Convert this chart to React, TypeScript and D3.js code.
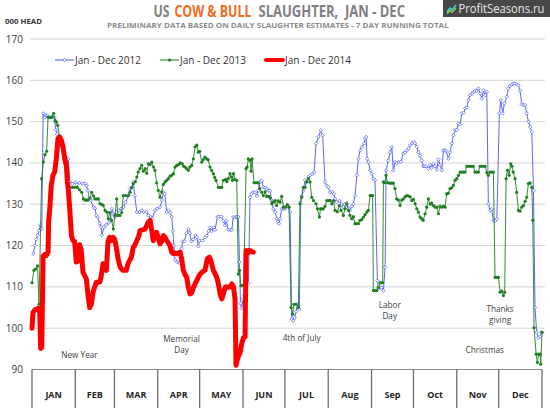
import React, { useLayoutEffect, useRef, useState } from "react";
import * as d3 from "d3";

const W = 550;
const H = 408;

const yTicks = [90, 100, 110, 120, 130, 140, 150, 160, 170];
const monthLabels = ["JAN", "FEB", "MAR", "APR", "MAY", "JUN", "JUL", "Aug", "Sep", "Oct", "Nov", "Dec"];
const monthStarts = [0, 31, 59, 90, 120, 151, 181, 212, 243, 273, 304, 334, 365];

const seriesNames = ["Jan - Dec 2012", "Jan - Dec 2013", "Jan - Dec 2014"];

// [day of year, thousand head]
const data2012: [number, number][] = [
  [1,118],[2,120],[3,121.5],[4,122.5],[5,123.6],[6,125],[7,124],[8,152],[9,151],[10,151.5],[11,151.5],[12,151],[14,151],[16,151],[17,148],[18,147],[19,146.3],[21,144],[23,142],[25,141.4],[26,141],[27,135.5],[29,135],[31,135.3],[32,134.8],[34,135.2],[36,135],[38,135],[39,134.5],[40,133.3],[41,131.3],[42,131],[44,129.3],[45,129],[46,127.3],[47,126.9],[48.5,125.3],[49.5,124.5],[50,122.5],[51.5,124.4],[53,125],[55,125.5],[56,126],[57,128.9],[58.5,127.5],[59.5,126.9],[60.6,128.1],[62,128.5],[64,129],[65.5,129.3],[67,130.5],[69,132.1],[70,133.8],[71.3,134.1],[72.5,135.4],[73.5,132.1],[75,128.1],[77,128.1],[78.5,128.5],[80,128.1],[82,128.1],[83.3,127.3],[85,126.9],[86,126.5],[88,128.5],[89.5,128.9],[91.6,129.3],[93,131],[94,132.9],[95,132.5],[96.4,128.1],[97.6,128.5],[99,128],[100,126.9],[100.8,123.6],[101.5,120],[102.4,116.5],[104,116],[105.5,115.8],[106.5,117.5],[107,119.3],[108,121],[109,121],[110.5,123],[112,124],[113,123],[114,121],[115.5,121.5],[117,122.5],[118,122],[119,119.8],[120,121.2],[122,121.2],[124,122],[125,122.4],[126.5,123.5],[127.4,124.4],[128.5,123.5],[130,124.4],[131,123.8],[132.7,126.9],[134,127],[135.5,127],[137,126],[138,124.9],[139,126],[140.5,123.8],[142,123.8],[143,123.8],[144,126.9],[145.5,126.9],[146.5,126.9],[147.7,126.9],[148.5,116],[149.2,106],[150,104.8],[151,107],[152,108],[153,110],[154.9,110.8],[156,131.7],[157,132.5],[158,132.9],[159.6,132.9],[161,132],[162,133.3],[163.2,135.4],[164.4,135.7],[165.6,134.1],[167,134],[168,133.7],[169.5,133.3],[170.4,133.3],[171.5,131],[172.7,128.9],[174,128.1],[175.2,126.5],[176,125.8],[176.8,125.3],[177.5,126.5],[178.7,128.9],[180,128.9],[181,128.9],[182.8,129.7],[184.7,128.1],[185.9,102.2],[187,101.8],[188,102.5],[189,104],[190,105.8],[191.4,104.6],[192.3,130.5],[193,132],[194.2,133.3],[195.4,135.8],[196.5,135.4],[197.8,136.6],[199,137],[200.5,137.2],[201.9,137.8],[203.3,144.7],[205,146.3],[206.7,147.9],[208,146.7],[209.7,135.4],[211,134.5],[212,134.1],[213.3,132.9],[215,133],[216,132.5],[216.9,131.3],[218,130.5],[220,130.8],[221.5,130],[222.8,129.3],[224,130],[225,130.3],[226.5,129],[227.6,128.5],[229,129.5],[230,130.1],[231.2,132.1],[232.5,137],[233.6,141],[234.8,143],[236,143.8],[237.7,144.7],[238.4,145.9],[239.2,146.3],[239.8,141],[240.7,140.2],[242,138.2],[243.2,137.4],[244.3,136.2],[245.5,135.8],[247.2,111.5],[247.9,109.5],[249,110],[250.3,109.8],[251.5,109.1],[252.7,114.7],[253.4,138.2],[255,140.6],[256.3,142.6],[257.5,143.9],[258.6,138.2],[259.8,140.2],[261,140],[262.5,140.2],[264,140.3],[265.8,142.3],[267,142.5],[268.2,143],[269.5,143.5],[270.6,144.3],[272,144.8],[273,145.1],[274,144.8],[275.4,143.9],[276.5,142.6],[277.7,141.8],[278.9,140.6],[280,139.2],[281,139.2],[282,139.2],[283.7,138.6],[285,139.5],[286,138.8],[287.3,139.8],[288.5,139.2],[289.7,138.4],[290.9,140.8],[292,139.5],[293.3,138.2],[294.4,143],[295.5,143],[296.3,143],[298,141],[299.2,142.6],[300.4,144.7],[301.6,146.7],[302.8,147.9],[304,148],[305.2,149.5],[306.4,149.3],[307.6,152],[309,152.2],[310,153.2],[311.2,153.4],[312.3,155.2],[313.5,156.4],[315,156.8],[315.9,157.2],[317,157.4],[318.3,157.4],[319.5,158],[320.7,156.8],[321.9,155.6],[323.1,157.6],[324.3,156.4],[325.5,157.2],[326.6,130.1],[327.8,128.5],[329,128.8],[330.2,126.1],[331.5,126],[332.7,126.5],[334.5,152],[335.5,155.2],[336.9,152],[338.1,154.4],[339.8,156],[340.9,158],[342,158.6],[343.4,159],[344.5,159.2],[345.7,159.2],[347,159],[348.1,158.8],[349.3,157.5],[350.5,154.2],[351.7,154],[352.9,154],[354.1,152],[355.3,150],[356.5,148.7],[357.7,147.5],[358.9,133.3],[360,105],[361.2,99],[362.4,97.7],[363.6,98],[364.8,99]
];

const data2013: [number, number][] = [
  [0,111],[1.4,114],[2.5,114.3],[4,115.1],[5,105.8],[6.9,136.2],[8.1,140.2],[9.3,142],[10.5,142.8],[11.5,151.1],[12.5,151],[13.5,151],[14.5,151.2],[15.5,152],[16.5,150.3],[17.5,149.9],[18.4,149.1],[19.6,146.5],[21,145],[22,144.3],[23.5,140],[24.8,135.8],[26,134.1],[27.5,134.1],[29,134.1],[30.5,134.1],[32.4,134.1],[34,133.5],[35.6,132.9],[36.8,131.3],[38,131],[39,131],[40,131],[41.5,131.5],[42.7,132.9],[44,132],[45,131.3],[46.5,131.3],[47.5,131.3],[48.7,130.1],[50,130],[51,129.7],[52.3,128.5],[53.5,128.1],[54.6,126.5],[55.5,128],[57,126.1],[58.2,124],[59.4,127.3],[60.6,131.3],[61.5,127.3],[63,127.3],[64.2,128],[65.4,132.1],[67,132.1],[68.9,132.1],[70.2,132.9],[71.3,134],[72.5,135],[74,135.5],[75,136.6],[76,137.8],[77.3,138.6],[78.5,139.4],[79.7,138],[81,138.6],[82.1,137.5],[83.3,139.8],[84.5,139.6],[85.7,140.2],[87,139],[88,138.2],[89.2,135.2],[90.4,133.3],[91.6,131.7],[92.8,133],[94,134.8],[95.2,135.4],[96.4,135.8],[97.6,136.2],[98.8,136.8],[100,137],[101.2,137.4],[102.4,139],[103.6,139.4],[105,139.6],[106,140],[107.5,139.8],[108.5,139.2],[109.5,139],[110.7,138.6],[111.9,138.2],[113,139],[114.3,139.4],[115.5,141],[116.7,143.9],[117.9,144.3],[119,142.6],[120,142.8],[121.5,140.2],[122.5,140.8],[123.8,141.4],[125,141],[126,140.8],[127.4,139],[128.5,138.2],[129.8,137.4],[130.8,136.5],[131.7,135.8],[133.4,134.1],[134.5,134.1],[135.8,134.1],[137,135.8],[138.5,136],[139.5,135.5],[140.5,136.2],[141.7,137.4],[142.8,136.6],[143.5,135.8],[144.2,137.4],[145.3,136],[146.5,135.8],[147.7,113.1],[148.5,114],[149.6,110.3],[150.5,110.3],[151.5,110.5],[153.2,138.6],[154,139],[154.8,141],[156,140.6],[156.8,138],[157.5,141],[158.9,135.2],[160,135.2],[161,135.2],[162,135.2],[163,133.8],[164.4,132.9],[165.6,132.1],[166.8,133],[168,131.9],[169.5,131.9],[170.5,131.5],[171.6,130.1],[172.8,130.5],[174,130.9],[175,129.7],[176.2,130.8],[177.5,130.5],[178.7,131.9],[180,129.3],[181.3,129.3],[182.8,129.9],[184,129.3],[185.4,105],[186.6,103.4],[187.5,105.8],[189,105.8],[190.6,105],[191.8,130.1],[193,131.7],[194.2,134.1],[195.4,134.1],[196.6,135.4],[197.8,136.2],[199,135.4],[200.2,131.7],[201.4,130.9],[203.3,130.1],[204.3,128.9],[205.7,126.9],[206.5,128.9],[207.5,128.9],[208.5,128.9],[209.7,129.5],[211,130.9],[212.2,130.9],[213.4,130.9],[214.6,130.1],[215.8,130.9],[216.9,128.5],[218.5,128.2],[220,129.7],[221.2,128.5],[222.8,127.3],[224,128.9],[225.3,130.1],[226.5,128.5],[227.6,127.3],[228.8,126.5],[230,127],[231.2,125.3],[232.4,125.3],[233.6,125.3],[234.8,126.1],[236,126.3],[237.2,126.9],[238.4,127.5],[239.6,128.1],[240.7,128.5],[242,132.1],[243.2,132.1],[243.8,132.1],[244.3,109.1],[245.5,109.1],[246.7,109.1],[247.9,109.9],[249.1,111],[250,111],[251,111],[251.5,135.4],[252.5,135.2],[253.4,137],[254.5,135.2],[256,135.1],[257.3,135.1],[258.6,135.1],[259.8,133.8],[261,131.3],[262.2,131],[263.4,129.7],[264.6,131],[265.8,131.3],[267,131.8],[268.2,132.1],[269.4,132],[270.6,131.8],[271.8,130.9],[273,131.2],[274.2,130.1],[275.4,128.9],[276.5,128.1],[277.7,126.9],[278.9,126.5],[280,126.1],[281.3,127.7],[282.5,129.3],[283.7,131.3],[285,130],[286,130.3],[287.3,129.7],[288.5,129.3],[289.7,129.3],[290.9,127.7],[292,129.5],[293.3,129.3],[294.5,129.5],[295.6,129.3],[296.8,132.5],[298,132.7],[299.2,133.8],[300.4,134],[301.6,134.6],[302.8,135.8],[304,136.2],[305.2,137],[306.4,137.8],[307.6,137.8],[308.8,137.8],[310,137.8],[311.2,139.2],[312.5,139.2],[313.5,139.2],[314.7,139.2],[315.9,139.2],[317,137.8],[318.3,137.8],[319.5,137.8],[320.7,139.2],[321.9,139.2],[323.1,139.2],[324.3,139.2],[325.5,137.6],[326.6,137],[327.8,137.8],[329,137.8],[330.2,137.8],[331.4,112.3],[332.6,112.3],[333.8,112.3],[335,108.7],[336.2,109],[337.4,107.9],[338.3,108.7],[339.3,136.2],[340.3,138.2],[341.5,137],[342.6,139.8],[343.5,139.2],[344.4,137.8],[345.7,136.2],[346.9,132.9],[348.1,128.5],[349.3,128.3],[350.5,129.3],[351.7,129.7],[352.9,130.7],[354.1,131.7],[355.3,135],[356.5,135.2],[357.7,134.1],[358.4,126.1],[359.3,100.1],[360.8,93.7],[361.7,91.7],[362.6,93.7],[363.6,93.7],[364.1,91.3],[365,99]
];

const data2014: [number, number][] = [
  [0,100],[0.7,103.8],[2,104.4],[3.1,104.6],[4.5,104.8],[5.5,104],[6.2,95.1],[7,95.3],[7.9,117.4],[9,117.8],[10.2,117.6],[11.5,118.4],[11.9,125.7],[12.7,128.9],[13.8,134.6],[15,137],[16.2,137.8],[17.4,141],[18.6,145.9],[19.8,146.3],[21,145.5],[22.2,143.9],[23.4,141],[24.6,139.4],[25.3,135.4],[26,133.5],[27,128.9],[28.2,122.4],[29.3,121.2],[30.5,121],[31.7,116],[32.7,116.2],[33.5,119.5],[34.1,120.2],[35.2,119],[36.5,113.5],[37.7,112.7],[38.9,111.9],[40.1,107.9],[41.3,105],[42.5,105.8],[43.7,108.7],[44.9,110],[46,111.1],[47.5,111.1],[48.5,111.2],[49.6,112.7],[50.8,115.6],[52,115.2],[53.2,114],[54.4,121],[55.6,122],[56.8,121.2],[58,122],[59.2,121.5],[60.4,119.4],[61.6,116.8],[62.8,115.1],[64,114.3],[65.1,114],[66.3,114],[67.5,114],[68.7,115.6],[70,116.5],[71.1,117.2],[72.5,119.6],[73.5,120],[75,121.2],[76.5,122.4],[77.3,123.6],[79,123.8],[80.9,124],[82,124.8],[83.3,125.7],[84.5,126.1],[85.7,123.6],[86.8,121.2],[88,123],[89.2,123.2],[90.4,121.8],[91.6,120.4],[92.8,121],[94,122.4],[95.2,122],[96.4,121.2],[97.6,120.6],[98.8,120],[100,118.4],[101.2,118],[102.4,118.2],[103.6,118],[104.8,118.2],[106,118.4],[107.1,116.8],[108.3,114],[109.5,113],[110.7,112.3],[111.9,109.9],[113.1,108.3],[114.3,108.6],[115.5,109.8],[116.7,110.7],[117.9,111.5],[119,112.3],[120.2,113],[121.5,113.5],[122.6,113.8],[123.8,114],[125.5,116.8],[126.9,117.2],[127.8,116.5],[128.6,115.6],[129.8,114],[131,113.2],[132.2,112.3],[133.4,110.7],[134.6,108.3],[135.8,107.1],[137,108.3],[138.2,109.9],[139.3,110],[140.5,109.9],[141.7,110],[143,110.7],[144.2,110],[145.3,107],[146,91],[147,92.5],[148,93.5],[148.9,94],[150.1,96.3],[151.3,97.7],[152.5,97.9],[153.2,118.8],[154.5,118.2],[155.5,118.8],[156.2,118.8],[157.2,118.5],[158.4,118.4]
];

const holidayLabels: { lines: string[]; day: number; value: number }[] = [
  { lines: ["New Year"], day: 34, value: 92.7 },
  { lines: ["Memorial", "Day"], day: 107, value: 96.6 },
  { lines: ["4th of July"], day: 193, value: 96.8 },
  { lines: ["Labor", "Day"], day: 256, value: 104.8 },
  { lines: ["Thanks", "giving"], day: 335, value: 103.9 },
  { lines: ["Christmas"], day: 324, value: 93.9 },
];

const BLUE = "#4a55f5";
const GREEN = "#1f7f1f";
const RED = "#ff0000";
const FONT = "'Open Sans', 'DejaVu Sans', sans-serif";

// Text horizontally scaled to occupy a given width (measured after layout)
function FitText(props: {
  x: number;
  y: number;
  width: number;
  fontSize: number;
  fill: string;
  bold?: boolean;
  children: string;
}) {
  const ref = useRef<SVGTextElement>(null);
  const [k, setK] = useState(1);
  useLayoutEffect(() => {
    if (ref.current) {
      const w = ref.current.getComputedTextLength();
      if (w > 0) setK(props.width / w);
    }
  }, [props.width, props.children]);
  return (
    <text
      ref={ref}
      transform={`translate(${props.x},${props.y}) scale(${k},1)`}
      fontSize={props.fontSize}
      fontWeight={props.bold ? "bold" : "normal"}
      fill={props.fill}
      style={{ whiteSpace: "pre" }}
    >
      {props.children}
    </text>
  );
}

export default function App() {
  const x = d3.scaleLinear().domain([0, 365]).range([32, 542]);
  const y = d3.scaleLinear().domain([90, 170]).range([369.5, 39]);
  const line = d3
    .line<[number, number]>()
    .x((d) => x(d[0]))
    .y((d) => y(d[1]));

  const diamond = (cx: number, cy: number, r: number) =>
    `M${cx},${cy - r}L${cx + r},${cy}L${cx},${cy + r}L${cx - r},${cy}Z`;

  return (
    <svg
      width={W}
      height={H}
      style={{ position: "absolute", left: 0, top: 0, background: "#fff" }}
      fontFamily={FONT}
    >
      <rect x={0} y={0} width={W} height={H} fill="#fff" />
      {/* watermark */}
      <rect x={443} y={0} width={107} height={17} fill="#474747" />
      <path d="M447,12 L450,8 L452,10 L456,5" stroke="#3fd2c8" strokeWidth={1.6} fill="none" />
      <path d="M447,14 L450,10.5 L452,12.5 L456,8" stroke="#8fd84a" strokeWidth={1.2} fill="none" />
      <FitText x={458.5} y={13} width={86} fontSize={12} fill="#e8e8e8">
        ProfitSeasons.ru
      </FitText>

      {/* titles */}
      <FitText x={153.5} y={17} width={16} fontSize={15.5} fill="#7f7f7f" bold>
        US
      </FitText>
      <FitText x={174.5} y={17} width={77} fontSize={15.5} fill="#f26a1b" bold>
        COW &amp; BULL
      </FitText>
      <FitText x={258.5} y={17} width={146.5} fontSize={15.5} fill="#7f7f7f" bold>
        SLAUGHTER,  JAN - DEC
      </FitText>
      <FitText x={107} y={28} width={342} fontSize={6.8} fill="#8c8c8c" bold>
        PRELIMINARY DATA BASED ON DAILY SLAUGHTER ESTIMATES - 7 DAY RUNNING TOTAL
      </FitText>
      <FitText x={5} y={24} width={37} fontSize={7.4} fill="#333" bold>
        000 HEAD
      </FitText>

      {/* gridlines and y ticks */}
      {yTicks.map((t) => (
        <g key={t}>
          {t > 90 && <line x1={30} x2={545} y1={y(t)} y2={y(t)} stroke="#d4d4d4" strokeWidth={1} />}
          <text x={23} y={y(t) + 3.5} fontSize={10} fill="#404040" textAnchor="end">
            {t}
          </text>
        </g>
      ))}

      {/* bottom month box */}
      <line x1={x(0)} x2={x(365)} y1={y(90)} y2={y(90)} stroke="#8a8a8a" strokeWidth={1} />
      {monthStarts.map((d, i) => (
        <line key={i} x1={x(d)} x2={x(d)} y1={y(90)} y2={H} stroke="#6e6e6e" strokeWidth={1.3} />
      ))}
      {monthLabels.map((m, i) => (
        <text
          key={m}
          x={(x(monthStarts[i]) + x(monthStarts[i + 1])) / 2}
          y={398}
          fontSize={9}
          fontWeight="bold"
          fill="#262626"
          textAnchor="middle"
        >
          {m}
        </text>
      ))}

      {/* holiday labels */}
      {holidayLabels.map((h, i) => (
        <text key={i} x={x(h.day)} y={y(h.value)} fontSize={8.2} fill="#404040" textAnchor="middle">
          {h.lines.map((l, j) => (
            <tspan key={j} x={x(h.day)} dy={j === 0 ? 0 : 11}>
              {l}
            </tspan>
          ))}
        </text>
      ))}

      {/* 2012 */}
      <path d={line(data2012) || ""} fill="none" stroke={BLUE} strokeWidth={0.9} />
      {data2012.map((d, i) => (
        <path key={i} d={diamond(x(d[0]), y(d[1]), 1.7)} fill="#fff" stroke={BLUE} strokeWidth={0.7} />
      ))}

      {/* 2013 */}
      <path d={line(data2013) || ""} fill="none" stroke={GREEN} strokeWidth={0.9} />
      {data2013.map((d, i) => (
        <circle key={i} cx={x(d[0])} cy={y(d[1])} r={1.6} fill={GREEN} />
      ))}

      {/* 2014 */}
      <path d={line(data2014) || ""} fill="none" stroke={RED} strokeWidth={5} strokeLinejoin="round" strokeLinecap="round" />

      {/* legend */}
      <g>
        <line x1={55} x2={74} y1={60} y2={60} stroke={BLUE} strokeWidth={1} />
        <path d={diamond(64.5, 60, 1.8)} fill="#fff" stroke={BLUE} strokeWidth={0.7} />
        <text x={75} y={63.5} fontSize={10} fill="#333">{seriesNames[0]}</text>
        <line x1={160} x2={179} y1={60} y2={60} stroke={GREEN} strokeWidth={1} />
        <circle cx={169.5} cy={60} r={1.6} fill={GREEN} />
        <text x={180} y={63.5} fontSize={10} fill="#333">{seriesNames[1]}</text>
        <line x1={266} x2={283} y1={60} y2={60} stroke={RED} strokeWidth={4} strokeLinecap="round" />
        <text x={285} y={63.5} fontSize={10} fill="#333">{seriesNames[2]}</text>
      </g>
    </svg>
  );
}
